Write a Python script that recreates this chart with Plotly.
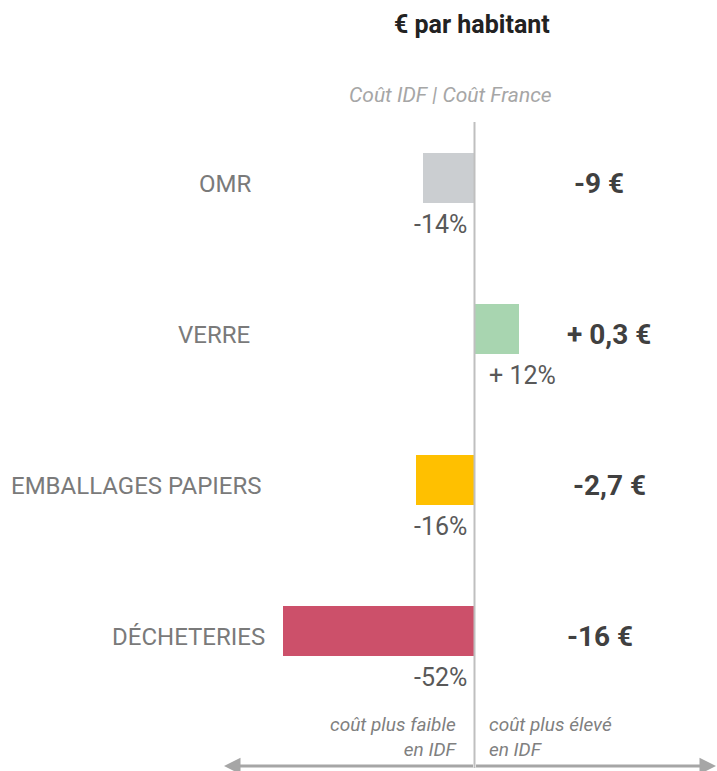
import plotly.graph_objects as go

# ---- data ----
categories = ["OMR", "VERRE", "EMBALLAGES PAPIERS", "DÉCHETERIES"]
pct_diff = [-14, 12, -16, -52]           # écart coût IDF / coût France (%)
pct_labels = ["-14%", "+ 12%", "-16%", "-52%"]
euro_labels = ["-9 €", "+ 0,3 €", "-2,7 €", "-16 €"]
colors = ["#cbced1", "#a8d5b0", "#ffc000", "#cc506a"]

# ---- layout / styling ----
W, H = 717, 771
X0_PX = 474.5          # pixel of zero line
PX_PER_UNIT = 3.68
x_range = [-X0_PX / PX_PER_UNIT, (W - X0_PX) / PX_PER_UNIT]
ROW_PX = 151.0
FIRST_ROW_PX = 178.0
y_top = -FIRST_ROW_PX / ROW_PX
y_bottom = y_top + H / ROW_PX
label_right_px = [253, 252, 264, 267]
euro_center_px = [599, 609, 609, 600]

def xdata(px):
    return (px - X0_PX) / PX_PER_UNIT

def ypaper(px):
    return 1 - px / H

ypos = list(range(len(categories)))

fig = go.Figure()
fig.add_trace(go.Bar(
    x=pct_diff, y=ypos, orientation="h", width=0.335,
    marker=dict(color=colors, line=dict(width=0)),
    hoverinfo="skip", showlegend=False,
))

ann = []
FONT = "Roboto"
# category labels
for i, c in enumerate(categories):
    ann.append(dict(text=c, xref="paper", yref="y", x=label_right_px[i] / W, y=i, yshift=-6,
                    xanchor="right", yanchor="middle", showarrow=False,
                    font=dict(family=FONT, size=24, color="#7a7a7a")))
# percentage labels under bars
for i, (v, t) in enumerate(zip(pct_diff, pct_labels)):
    ann.append(dict(text=t, xref="x", yref="y", x=0, y=i, yshift=-46,
                    xshift=(-6 if v < 0 else 12),
                    xanchor=("right" if v < 0 else "left"), yanchor="middle",
                    showarrow=False,
                    font=dict(family=FONT, size=25, color="#595959")))
# euro labels
for i, t in enumerate(euro_labels):
    ann.append(dict(text="<b>%s</b>" % t, xref="x", yref="y", x=xdata(euro_center_px[i]), y=i,
                    yshift=-5, xanchor="center", yanchor="middle", showarrow=False,
                    font=dict(family=FONT, size=28, color="#404040")))
# title & subtitle
ann.append(dict(text="<b>€ par habitant</b>", xref="paper", yref="paper",
                x=472 / W, y=ypaper(25), xanchor="center", yanchor="middle",
                showarrow=False, font=dict(family=FONT, size=25, color="#222222")))
ann.append(dict(text="<i>Coût IDF | Coût France</i>", xref="paper", yref="paper",
                x=450 / W, y=ypaper(95), xanchor="center", yanchor="middle",
                showarrow=False, font=dict(family=FONT, size=21, color="#a6a6a6")))
# bottom notes
ann.append(dict(text="<i>coût plus faible<br>en IDF</i>", xref="x", yref="paper",
                x=0, xshift=-15, y=ypaper(737), xanchor="right", yanchor="middle",
                align="right", showarrow=False,
                font=dict(family=FONT, size=19, color="#808080")))
ann.append(dict(text="<i>coût plus élevé<br>en IDF</i>", xref="x", yref="paper",
                x=0, xshift=12, y=ypaper(737), xanchor="left", yanchor="middle",
                align="left", showarrow=False,
                font=dict(family=FONT, size=19, color="#808080")))
# double-headed arrow
for head_px in (224, 716):
    ann.append(dict(text="", xref="x", yref="paper", x=xdata(head_px), y=ypaper(766),
                    axref="x", ax=0, ayref="pixel", ay=0, showarrow=True,
                    arrowhead=2, arrowsize=1.1, arrowwidth=3, arrowcolor="#a6a6a6"))

fig.update_layout(
    width=W, height=H, margin=dict(l=0, r=0, t=0, b=0),
    paper_bgcolor="white", plot_bgcolor="white",
    xaxis=dict(range=x_range, visible=False, fixedrange=True),
    yaxis=dict(range=[y_bottom, y_top], visible=False, fixedrange=True),
    annotations=ann, bargap=0,
    shapes=[dict(type="line", xref="x", yref="paper", x0=0, x1=0,
                 y0=ypaper(768), y1=ypaper(122),
                 line=dict(color="#bfbfbf", width=2), layer="above")],
)

fig.write_html("out.html", config={"displayModeBar": False},
               post_script="document.body.style.margin='0';")
